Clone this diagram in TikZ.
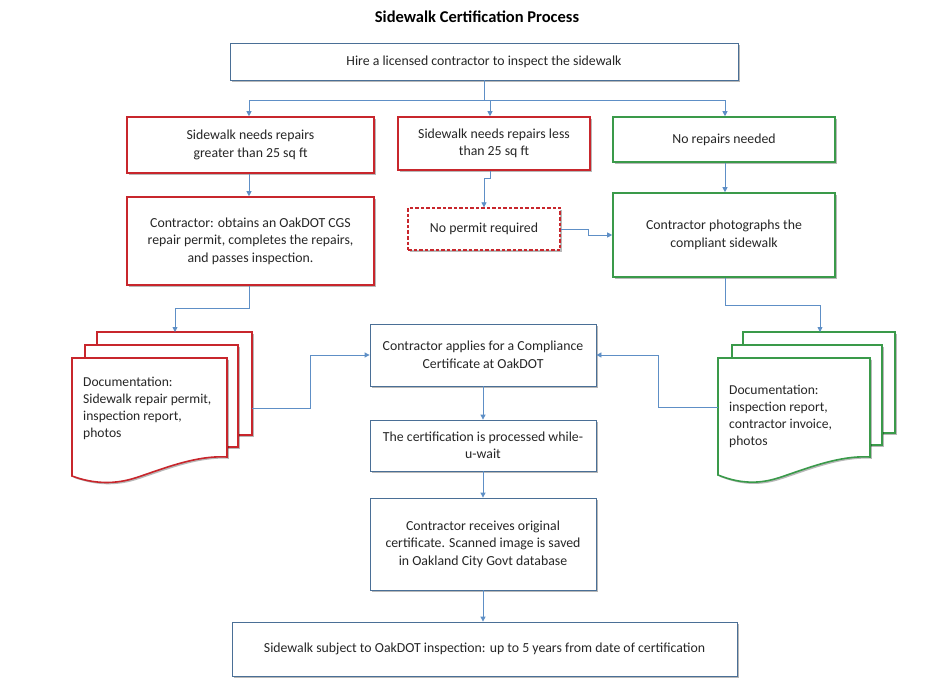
\documentclass[tikz,border=0pt]{standalone}
\usepackage{fontspec}
\setmainfont{Carlito}
\usetikzlibrary{arrows.meta,shadows}
\definecolor{cred}{HTML}{C8262C}
\definecolor{cgreen}{HTML}{3A9A4A}
\definecolor{cblue}{HTML}{4A6F96}
\definecolor{cline}{HTML}{5E8FC6}
\definecolor{ctext}{HTML}{262626}
\tikzset{
  sh/.style={drop shadow={shadow xshift=1.8pt,shadow yshift=-1.8pt,fill=black,opacity=0.28}},
  basebox/.style={rectangle,fill=white,sh,align=center,text=ctext,font=\fontsize{13.8}{17.5}\selectfont,inner sep=2pt},
  bluebox/.style={basebox,draw=cblue,line width=0.8pt},
  redbox/.style={basebox,draw=cred,line width=1.6pt},
  greenbox/.style={basebox,draw=cgreen,line width=1.6pt},
  dashbox/.style={basebox,draw=cred,line width=1.3pt,dash pattern=on 3.5pt off 2pt},
  conn/.style={draw=cline,line width=0.8pt,-{Triangle[length=5pt,width=5pt]}},
  plain/.style={draw=cline,line width=0.8pt},
  docsheet/.style={fill=white,line width=1.6pt,sh},
  doctext/.style={align=left,text=ctext,font=\fontsize{13.6}{17}\selectfont,anchor=north west,inner sep=0pt}
}
\begin{document}
\begin{tikzpicture}[x=1pt,y=-1pt]
\useasboundingbox[fill=white] (0,0) rectangle (942,687);

\node[font=\fontsize{16.5}{18}\selectfont\bfseries,text=black] (title) at (477,17) {Sidewalk Certification Process};

\node[bluebox,minimum width=508pt,minimum height=37pt] (top) at (484,61.5) {Hire a licensed contractor to inspect the sidewalk};

\node[redbox,minimum width=247pt,minimum height=56pt] (A) at (250.5,145) {Sidewalk needs repairs\\greater than 25 sq ft};
\node[redbox,minimum width=192pt,minimum height=53pt] (B) at (494,143.5) {Sidewalk needs repairs less\\than 25 sq ft};
\node[greenbox,minimum width=222pt,minimum height=45pt] (C) at (724,139.5) {No repairs needed};

\node[redbox,minimum width=247pt,minimum height=88pt] (A2) at (250.5,241) {Contractor: obtains an OakDOT CGS\\repair permit, completes the repairs,\\and passes inspection.};
\node[dashbox,minimum width=152pt,minimum height=42pt] (D) at (484,229) {No permit required};
\node[greenbox,minimum width=222pt,minimum height=84pt] (C2) at (724,235) {Contractor photographs the\\compliant sidewalk};

\node[bluebox,minimum width=226pt,minimum height=62pt] (M1) at (483,355) {Contractor applies for a Compliance\\Certificate at OakDOT};
\node[bluebox,minimum width=226pt,minimum height=51pt] (M2) at (483,445.5) {The certification is processed while-\\u-wait};
\node[bluebox,minimum width=226pt,minimum height=92pt] (M3) at (483,544) {Contractor receives original\\certificate. Scanned image is saved\\in Oakland City Govt database};
\node[bluebox,minimum width=505pt,minimum height=54pt] (M4) at (484.5,649) {Sidewalk subject to OakDOT inspection: up to 5 years from date of certification};

% left document stack
\draw[docsheet,draw=cred] (97,332) rectangle (252,435);
\draw[docsheet,draw=cred] (85,345) rectangle (238,447);
\draw[docsheet,draw=cred] (72,358) -- (227,358) -- (227,457)
  .. controls (195,455) and (160,470) .. (135,478)
  .. controls (110,486) and (88,482) .. (72,476) -- cycle;
\node[doctext] (ldoc) at (83,377) {Documentation:\\Sidewalk repair permit,\\inspection report,\\photos};
\coordinate (ltop) at (175,332);
\coordinate (lout) at (252,408);

% right document stack
\draw[docsheet,draw=cgreen] (743,332) rectangle (895,433);
\draw[docsheet,draw=cgreen] (732,345) rectangle (882,445);
\draw[docsheet,draw=cgreen] (718,358) -- (870,358) -- (870,457)
  .. controls (838,455) and (803,470) .. (778,478)
  .. controls (753,486) and (733,481) .. (718,475) -- cycle;
\node[doctext] (rdoc) at (729,385) {Documentation:\\inspection report,\\contractor invoice,\\photos};
\coordinate (rtop) at (820,332);
\coordinate (rout) at (718,407);

% connectors
\coordinate (split) at (484,100);
\draw[plain] (top.south) -- (split);
\draw[conn] (split) -| ([xshift=-1.5pt]A.north);
\draw[conn] (split) -| ([xshift=-4pt]B.north);
\draw[conn] (split) -| ([xshift=1pt]C.north);

\draw[conn] ([xshift=-1.5pt]A.south) -- ([xshift=-1.5pt]A2.north);
\draw[conn] ([xshift=1pt]C.south) -- ([xshift=1pt]C2.north);

\coordinate (bd) at (490,178);
\draw[conn] ([xshift=-4pt]B.south) -- (bd) -| (D.north);
\draw[conn] (D.east) -- ++(28,0) |- (C2.west);

\draw[conn] ([xshift=-1.5pt]A2.south) -- ++(0,23) -| (ltop);
\draw[conn] ([xshift=1pt]C2.south) -- ++(0,28) -| (rtop);

\draw[conn] (lout) -- ++(58,0) |- (M1.west);
\draw[conn] (rout) -- ++(-60,0) |- (M1.east);

\draw[conn] (M1.south) -- (M2.north);
\draw[conn] (M2.south) -- (M3.north);
\draw[conn] (M3.south) -- (M4.north -| M3.south);
\end{tikzpicture}
\end{document}
